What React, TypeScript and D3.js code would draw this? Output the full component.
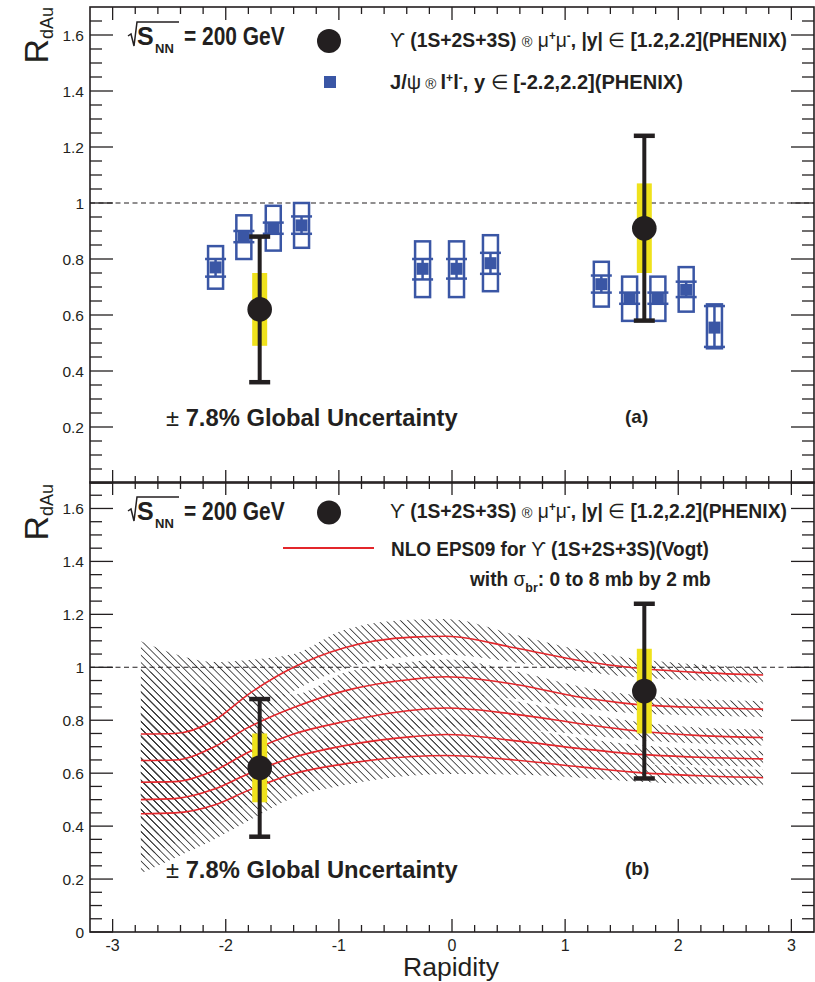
import React, { useLayoutEffect, useRef, useState } from "react";
import * as d3 from "d3";

// Upsilon(1S+2S+3S) -> mu+mu-, |y| in [1.2,2.2] (PHENIX)
const upsRap = [-1.7, 1.7];
const upsR = [0.62, 0.91];
const upsStatLo = [0.36, 0.58];
const upsStatHi = [0.88, 1.24];
const upsSysLo = [0.49, 0.75];
const upsSysHi = [0.75, 1.07];

// J/psi -> l+l- (PHENIX)
const jpsiRap = [-2.09, -1.84, -1.58, -1.33, -0.26, 0.04, 0.34, 1.32, 1.57, 1.82, 2.07, 2.32];
const jpsiR = [0.77, 0.88, 0.91, 0.92, 0.765, 0.765, 0.785, 0.71, 0.66, 0.66, 0.69, 0.555];
const jpsiStatLo = [0.737, 0.86, 0.89, 0.89, 0.727, 0.73, 0.747, 0.68, 0.64, 0.64, 0.664, 0.486];
const jpsiStatHi = [0.8, 0.9, 0.93, 0.952, 0.8, 0.8, 0.822, 0.741, 0.68, 0.68, 0.719, 0.632];
const jpsiSysLo = [0.694, 0.8, 0.83, 0.84, 0.664, 0.664, 0.685, 0.63, 0.579, 0.579, 0.612, 0.481];
const jpsiSysHi = [0.846, 0.956, 0.99, 1.0, 0.863, 0.863, 0.885, 0.79, 0.737, 0.737, 0.771, 0.638];

// NLO EPS09 for Upsilon (Vogt), sigma_br = 0, 2, 4, 6, 8 mb
const thRap = [-2.75, -2.45, -2.1, -1.8, -1.4, -0.95, -0.35, -0.05, 0.55, 1.15, 1.6, 2.2, 2.75];
const th0mb = [0.748, 0.75, 0.8, 0.898, 1.0, 1.074, 1.114, 1.117, 1.074, 1.024, 0.998, 0.98, 0.971];
const th2mb = [0.648, 0.65, 0.7, 0.773, 0.848, 0.911, 0.955, 0.964, 0.936, 0.886, 0.861, 0.848, 0.842];
const th4mb = [0.566, 0.568, 0.61, 0.679, 0.748, 0.795, 0.838, 0.846, 0.823, 0.786, 0.761, 0.742, 0.735];
const th6mb = [0.5, 0.504, 0.54, 0.598, 0.66, 0.704, 0.738, 0.746, 0.723, 0.692, 0.673, 0.66, 0.654];
const th8mb = [0.447, 0.45, 0.48, 0.535, 0.598, 0.635, 0.663, 0.667, 0.65, 0.623, 0.604, 0.59, 0.583];
const thBandUp = [0.35, 0.3, 0.22, 0.13, 0.05, 0.068, 0.066, 0.065, 0.05, 0.04, 0.035, 0.03, 0.03];
const thBandDown = [0.225, 0.17, 0.13, 0.115, 0.09, 0.08, 0.072, 0.07, 0.055, 0.04, 0.035, 0.03, 0.03];
const thCurves = [th0mb, th2mb, th4mb, th6mb, th8mb];

const xTickVals = [-3, -2, -1, 0, 1, 2, 3];
const xTickLabels = ["-3", "-2", "-1", "0", "1", "2", "3"];
const yTickVals = [0, 0.2, 0.4, 0.6, 0.8, 1, 1.2, 1.4, 1.6];
const yTickLabels = ["0", "0.2", "0.4", "0.6", "0.8", "1", "1.2", "1.4", "1.6"];

const W = 815;
const H = 982;
const L = 90;
const R = 814;
const ink = "#231f20";
const blue = "#3a56a5";
const yellow = "#efe21c";
const red = "#e3262b";
const sans = "'Liberation Sans', Arial, Helvetica, sans-serif";

const x = d3.scaleLinear().domain([-3.2, 3.2]).range([L, R]);
const yA = d3.scaleLinear().domain([0, 1.7]).range([483, 7]);
const yB = d3.scaleLinear().domain([0, 1.7]).range([932, 482]);

// squeezes a text horizontally to a given width, glyph height unchanged
function FitText({ x, y, width, children, ...rest }: any) {
  const ref = useRef<SVGTextElement>(null);
  const [k, setK] = useState(1);
  useLayoutEffect(() => {
    if (ref.current) {
      const w = ref.current.getBBox().width;
      if (w > 0) setK(width / w);
    }
  }, [width]);
  return (
    <g transform={`translate(${x},${y}) scale(${k},1)`}>
      <text ref={ref} x={0} y={0} {...rest}>
        {children}
      </text>
    </g>
  );
}

function Frame({ y, xLabels, yLabelFrom }: any) {
  const [yb, yt] = y.range();
  const minorX = d3.range(-31, 32).filter((i) => i % 2 === 0 && i % 10 !== 0).map((i) => i / 10);
  const minorY = d3.range(1, 34).filter((i) => i % 4 !== 0).map((i) => i * 0.05);
  return (
    <g stroke={ink} strokeWidth={1.3}>
      {xTickVals.map((v) => (
        <g key={"xM" + v}>
          <line x1={x(v)} x2={x(v)} y1={yb} y2={yb - 13} />
          <line x1={x(v)} x2={x(v)} y1={yt} y2={yt + 13} />
        </g>
      ))}
      {minorX.map((v) => (
        <g key={"xm" + v}>
          <line x1={x(v)} x2={x(v)} y1={yb} y2={yb - 7} />
          <line x1={x(v)} x2={x(v)} y1={yt} y2={yt + 7} />
        </g>
      ))}
      {yTickVals.map((v) => (
        <g key={"yM" + v}>
          <line x1={L} x2={L + 23} y1={y(v)} y2={y(v)} />
          <line x1={R} x2={R - 23} y1={y(v)} y2={y(v)} />
        </g>
      ))}
      {minorY.map((v) => (
        <g key={"ym" + v}>
          <line x1={L} x2={L + 12} y1={y(v)} y2={y(v)} />
          <line x1={R} x2={R - 12} y1={y(v)} y2={y(v)} />
        </g>
      ))}
      <rect x={L} y={yt} width={R - L} height={yb - yt} fill="none" strokeWidth={1.6} />
      <g stroke="none" fill={ink} fontFamily={sans} fontSize={15.5}>
        {yTickVals.map((v, i) =>
          i >= yLabelFrom ? (
            <text key={"yl" + v} x={84} y={y(v)} dy="0.36em" textAnchor="end">
              {yTickLabels[i]}
            </text>
          ) : null
        )}
        {xLabels &&
          xTickVals.map((v, i) => (
            <text key={"xl" + v} x={x(v)} y={951} textAnchor="middle" fontSize={16}>
              {xTickLabels[i]}
            </text>
          ))}
      </g>
      <line x1={L} x2={R} y1={y(1)} y2={y(1)} strokeWidth={1.1} strokeDasharray="5,3.5" />
    </g>
  );
}

function YTitle({ top }: any) {
  return (
    <text transform={`translate(48,${top}) rotate(-90)`} textAnchor="end" fontFamily={sans} fill={ink}>
      <tspan fontSize={34}>R</tspan>
      <tspan fontSize={18} dy={5}>dAu</tspan>
    </text>
  );
}

function SqrtS({ b }: any) {
  return (
    <g fill={ink} fontFamily={sans} fontWeight="bold">
      <path
        d={`M128,${b - 9} L131,${b - 11} L134,${b + 1} L137,${b - 23} L179,${b - 23}`}
        fill="none"
        stroke={ink}
        strokeWidth={1.5}
      />
      <text x={137} y={b} fontSize={25}>S</text>
      <text x={155} y={b + 8} fontSize={13}>NN</text>
      <FitText x={184} y={b} width={101} fontSize={25}>
        = 200 GeV
      </FitText>
    </g>
  );
}

function UpsText({ b }: any) {
  return (
    <FitText x={390} y={b} width={397} fontFamily={sans} fontWeight="bold" fontSize={20} fill={ink}>
      <tspan fontWeight="normal">ϒ</tspan>
      <tspan>{" (1S+2S+3S) "}</tspan>
      <tspan fontWeight="normal" fontSize={15}>®</tspan>
      <tspan fontWeight="normal">{" μ"}</tspan>
      <tspan fontSize={12} dy={-7}>+</tspan>
      <tspan fontWeight="normal" dy={7}>μ</tspan>
      <tspan fontSize={12} dy={-7}>-</tspan>
      <tspan dy={7}>{", |y| "}</tspan>
      <tspan fontWeight="normal">∈</tspan>
      <tspan>{" [1.2,2.2](PHENIX)"}</tspan>
    </FitText>
  );
}

function Upsilon({ y }: any) {
  return (
    <g>
      {upsRap.map((r, i) => (
        <g key={"u" + i}>
          <rect x={x(r) - 7.5} y={y(upsSysHi[i])} width={15} height={y(upsSysLo[i]) - y(upsSysHi[i])} fill={yellow} />
          <line x1={x(r)} x2={x(r)} y1={y(upsStatLo[i])} y2={y(upsStatHi[i])} stroke={ink} strokeWidth={4} />
          <line x1={x(r) - 10.5} x2={x(r) + 10.5} y1={y(upsStatLo[i])} y2={y(upsStatLo[i])} stroke={ink} strokeWidth={4.5} />
          <line x1={x(r) - 10.5} x2={x(r) + 10.5} y1={y(upsStatHi[i])} y2={y(upsStatHi[i])} stroke={ink} strokeWidth={4.5} />
          <circle cx={x(r)} cy={y(upsR[i])} r={12.3} fill={ink} />
        </g>
      ))}
    </g>
  );
}

function GlobalText({ b, tag }: any) {
  return (
    <g fill={ink} fontFamily={sans} fontWeight="bold">
      <FitText x={166} y={b} width={292} fontSize={23}>
        <tspan fontWeight="normal">±</tspan>
        <tspan>{" 7.8% Global Uncertainty"}</tspan>
      </FitText>
      <text x={625} y={b - 3} fontSize={19}>{tag}</text>
    </g>
  );
}

export default function App() {
  const band = (c: number[]) =>
    d3
      .area<number>()
      .x((_, i) => x(thRap[i]))
      .y0((d, i) => yB(d - thBandDown[i]))
      .y1((d, i) => yB(d + thBandUp[i]))
      .curve(d3.curveMonotoneX)(c) as string;
  const curve = (c: number[]) =>
    d3
      .line<number>()
      .x((_, i) => x(thRap[i]))
      .y((d) => yB(d))
      .curve(d3.curveMonotoneX)(c) as string;

  return (
    <svg width={W} height={H} style={{ position: "absolute", left: 0, top: 0, background: "#fff" }}>
      <defs>
        <pattern id="hatch" patternUnits="userSpaceOnUse" width={5.2} height={5.2} patternTransform="rotate(-45)">
          <line x1={0} y1={0} x2={0} y2={5.2} stroke="#3a3a3a" strokeWidth={1.7} />
        </pattern>
      </defs>
      <rect width={W} height={H} fill="#fff" />

      {/* panel (a) */}
      <Frame y={yA} xLabels={false} yLabelFrom={1} />
      <YTitle top={7} />
      <SqrtS b={45} />
      <circle cx={329} cy={41} r={12} fill={ink} />
      <UpsText b={47} />
      <rect x={324} y={76} width={12} height={12} fill={blue} />
      <FitText x={390} y={89} width={293} fontFamily={sans} fontWeight="bold" fontSize={20} fill={ink}>
        <tspan>{"J/"}</tspan>
        <tspan fontWeight="normal">ψ</tspan>
        <tspan fontWeight="normal" fontSize={15}>{" ® "}</tspan>
        <tspan>{" l"}</tspan>
        <tspan fontSize={12} dy={-7}>+</tspan>
        <tspan dy={7}>l</tspan>
        <tspan fontSize={12} dy={-7}>-</tspan>
        <tspan dy={7}>{", y "}</tspan>
        <tspan fontWeight="normal">∈</tspan>
        <tspan>{" [-2.2,2.2](PHENIX)"}</tspan>
      </FitText>
      <g>
        {jpsiRap.map((r, i) => (
          <g key={"j" + i} stroke={blue} strokeWidth={2.5}>
            <rect x={x(r) - 7.5} y={yA(jpsiSysHi[i])} width={15} height={yA(jpsiSysLo[i]) - yA(jpsiSysHi[i])} fill="none" />
            <line x1={x(r)} x2={x(r)} y1={yA(jpsiStatLo[i])} y2={yA(jpsiStatHi[i])} />
            <line x1={x(r) - 10.5} x2={x(r) + 10.5} y1={yA(jpsiStatLo[i])} y2={yA(jpsiStatLo[i])} />
            <line x1={x(r) - 10.5} x2={x(r) + 10.5} y1={yA(jpsiStatHi[i])} y2={yA(jpsiStatHi[i])} />
            <rect x={x(r) - 6} y={yA(jpsiR[i]) - 6} width={12} height={12} fill={blue} stroke="none" />
          </g>
        ))}
      </g>
      <Upsilon y={yA} />
      <GlobalText b={426} tag="(a)" />

      {/* panel (b) */}
      <g>
        {thCurves.map((c, k) => (
          <path key={"b" + k} d={band(c)} fill="url(#hatch)" stroke="none" />
        ))}
      </g>
      <Frame y={yB} xLabels={true} yLabelFrom={0} />
      <g>
        {thCurves.map((c, k) => (
          <path key={"c" + k} d={curve(c)} fill="none" stroke={red} strokeWidth={1.6} />
        ))}
      </g>
      <YTitle top={484} />
      <SqrtS b={520} />
      <circle cx={329} cy={512.5} r={12} fill={ink} />
      <UpsText b={518} />
      <line x1={283} x2={374} y1={548} y2={548} stroke={red} strokeWidth={2} />
      <FitText x={391} y={556} width={318} fontFamily={sans} fontWeight="bold" fontSize={20} fill={ink}>
        <tspan>{"NLO EPS09 for "}</tspan>
        <tspan fontWeight="normal">ϒ</tspan>
        <tspan>{" (1S+2S+3S)(Vogt)"}</tspan>
      </FitText>
      <FitText x={470} y={586} width={242} fontFamily={sans} fontWeight="bold" fontSize={20} fill={ink}>
        <tspan>{"with "}</tspan>
        <tspan fontWeight="normal">σ</tspan>
        <tspan fontSize={13} dy={6}>br</tspan>
        <tspan dy={-6}>{": 0 to 8 mb by 2 mb"}</tspan>
      </FitText>
      <Upsilon y={yB} />
      <GlobalText b={878} tag="(b)" />
      <FitText x={403} y={976} width={96} fontFamily={sans} fontSize={26} fill={ink}>
        Rapidity
      </FitText>
    </svg>
  );
}
